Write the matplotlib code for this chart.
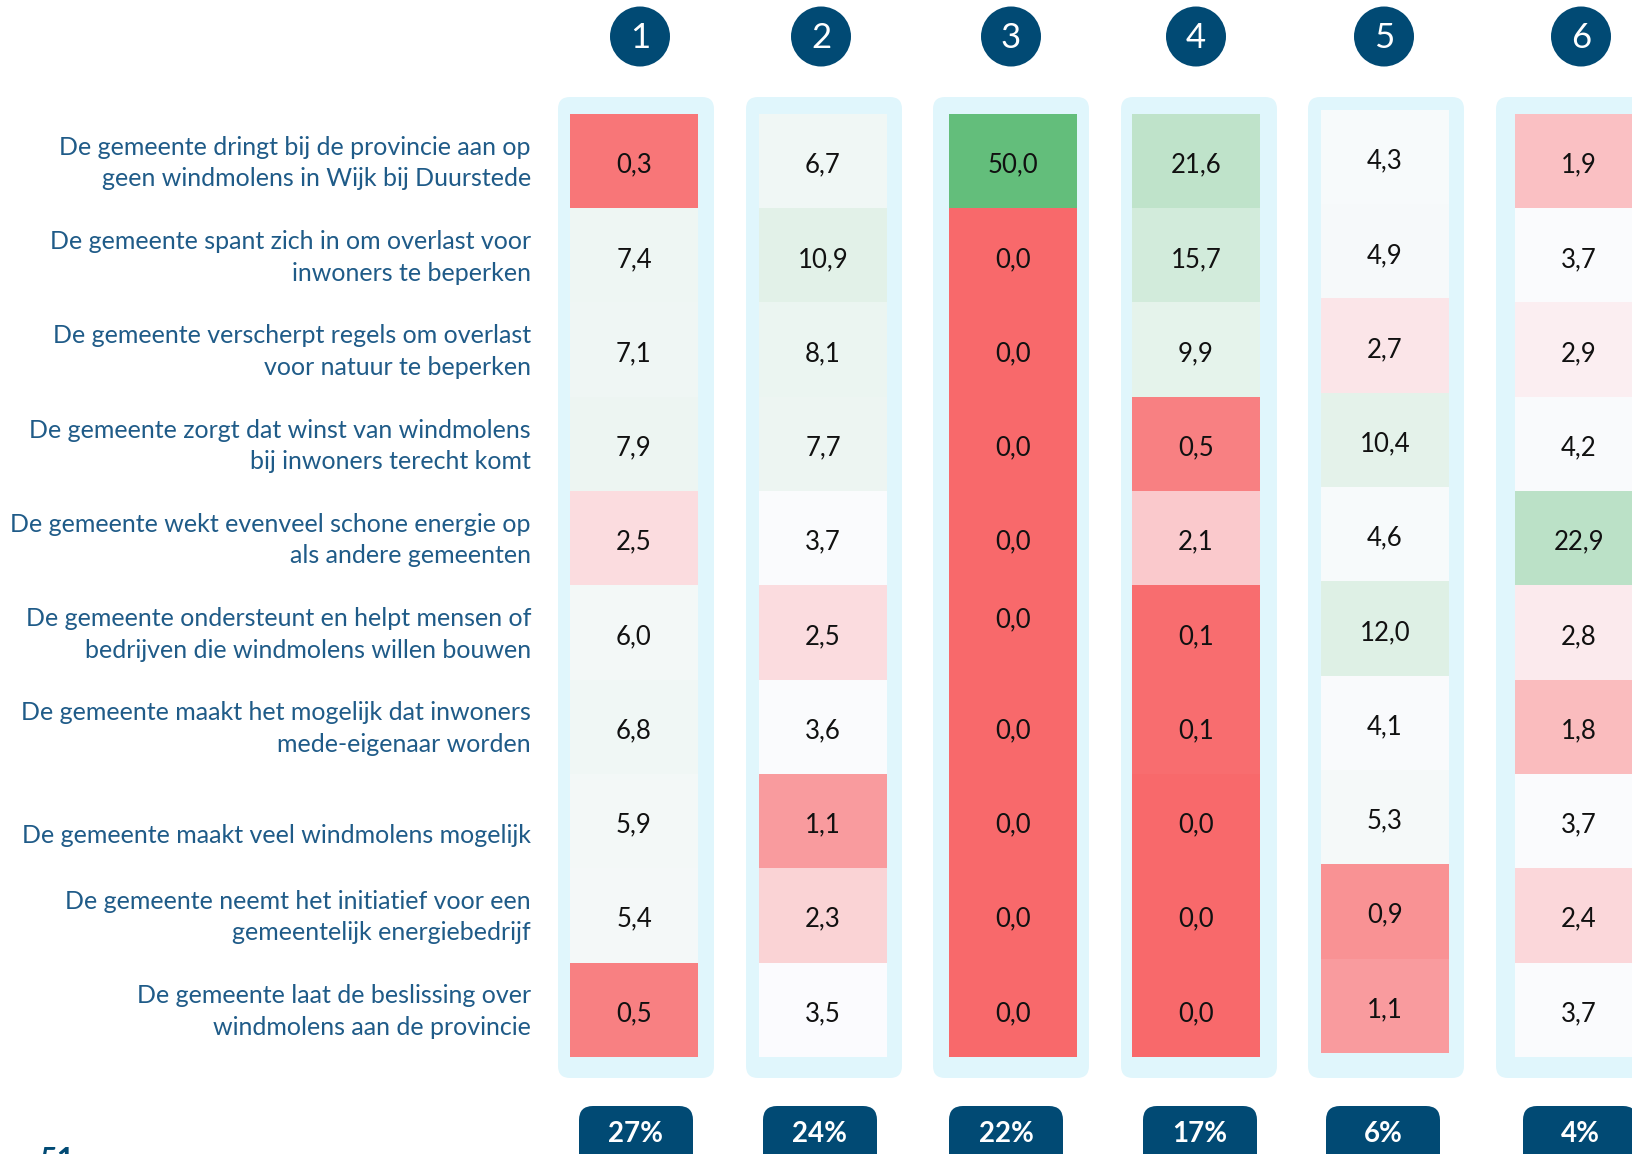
import numpy as np
import matplotlib
matplotlib.use("Agg")
import matplotlib.pyplot as plt
from matplotlib.colors import LinearSegmentedColormap, TwoSlopeNorm
from matplotlib.patches import FancyBboxPatch, Ellipse

# ---------------- data ----------------
statements = [
    "De gemeente dringt bij de provincie aan op\ngeen windmolens in Wijk bij Duurstede",
    "De gemeente spant zich in om overlast voor\ninwoners te beperken",
    "De gemeente verscherpt regels om overlast\nvoor natuur te beperken",
    "De gemeente zorgt dat winst van windmolens\nbij inwoners terecht komt",
    "De gemeente wekt evenveel schone energie op\nals andere gemeenten",
    "De gemeente ondersteunt en helpt mensen of\nbedrijven die windmolens willen bouwen",
    "De gemeente maakt het mogelijk dat inwoners\nmede-eigenaar worden",
    "De gemeente maakt veel windmolens mogelijk",
    "De gemeente neemt het initiatief voor een\ngemeentelijk energiebedrijf",
    "De gemeente laat de beslissing over\nwindmolens aan de provincie",
]
segments = ["1", "2", "3", "4", "5", "6"]
segment_share = ["27%", "24%", "22%", "17%", "6%", "4%"]

seg1 = [0.3, 7.4, 7.1, 7.9, 2.5, 6.0, 6.8, 5.9, 5.4, 0.5]
seg2 = [6.7, 10.9, 8.1, 7.7, 3.7, 2.5, 3.6, 1.1, 2.3, 3.5]
seg3 = [50.0, 0.0, 0.0, 0.0, 0.0, 0.0, 0.0, 0.0, 0.0, 0.0]
seg4 = [21.6, 15.7, 9.9, 0.5, 2.1, 0.1, 0.1, 0.0, 0.0, 0.0]
seg5 = [4.3, 4.9, 2.7, 10.4, 4.6, 12.0, 4.1, 5.3, 0.9, 1.1]
seg6 = [1.9, 3.7, 2.9, 4.2, 22.9, 2.8, 1.8, 3.7, 2.4, 3.7]
series = [seg1, seg2, seg3, seg4, seg5, seg6]

# ---------------- style ----------------
W, H = 1633, 1154
fig = plt.figure(figsize=(W / 100, H / 100), dpi=100)
ax = fig.add_axes([0, 0, 1, 1])
ax.set_xlim(0, W)
ax.set_ylim(H, 0)
ax.axis("off")

FONT = ["Lato", "DejaVu Sans"]
DARK = "#014a74"
LABEL = "#1f5b88"
PANEL = "#e0f6fc"

cmap = LinearSegmentedColormap.from_list("xl", ["#F8696B", "#FCFCFF", "#63BE7B"])
allv = np.concatenate([np.array(s) for s in series])
norm = TwoSlopeNorm(vmin=allv.min(), vcenter=np.percentile(allv, 50), vmax=allv.max())

# layout (pixels)
panel_left = [558, 746, 933, 1121, 1308, 1496]
panel_w = 156
panel_top, panel_bot = 97, 1078
cell_left = [570, 759, 949, 1132, 1321, 1515]
cell_w = 128
cell_top = [115, 115, 115, 115, 111, 115]
row_h = 94.25
circle_x = [640, 821, 1011, 1196, 1384, 1581]
badge_x = [636, 820, 1006, 1200, 1383, 1580]

for i, vals in enumerate(series):
    # background panel
    ax.add_patch(FancyBboxPatch((panel_left[i] + 12, panel_top + 12),
                                panel_w - 24, panel_bot - panel_top - 24,
                                boxstyle="round,pad=12", fc=PANEL, ec="none", zorder=1))
    # heat cells
    top = cell_top[i]
    bot = top + row_h * len(vals)
    ax.imshow(np.array(vals)[:, None], cmap=cmap, norm=norm, aspect="auto",
              extent=(cell_left[i], cell_left[i] + cell_w, bot, top),
              interpolation="nearest", zorder=2)
    for r, v in enumerate(vals):
        dy = -17 if (i == 2 and r == 5) else 0
        ax.text(cell_left[i] + cell_w / 2, top + row_h * (r + 0.5) + dy + 3,
                f"{v:.1f}".replace(".", ","), ha="center", va="center",
                fontsize=18.5, family=FONT, color="#111111", zorder=3)
    # header circle
    ax.add_patch(Ellipse((circle_x[i], 36.5), 60, 60, fc=DARK, ec="none", zorder=3))
    ax.text(circle_x[i], 38, segments[i], ha="center", va="center",
            fontsize=25, family=FONT, color="white", zorder=4)
    # bottom badge
    ax.add_patch(FancyBboxPatch((badge_x[i] - 57 + 14, 1106 + 14), 114 - 28, 80,
                                boxstyle="round,pad=14", fc=DARK, ec="none", zorder=3))
    ax.text(badge_x[i], 1134, segment_share[i], ha="center", va="center",
            fontsize=20, family=FONT, weight="bold", color="white", zorder=4)

# row labels
for r, lab in enumerate(statements):
    yc = 115 + row_h * (r + 0.5) + 1
    if "\n" not in lab:
        yc += 13
    ax.text(531, yc, lab, ha="right", va="center", fontsize=18, family=FONT,
            color=LABEL, linespacing=1.45, zorder=3)

# page number (cut off at bottom, as in the original page)
ax.text(40, 1146, "51", ha="left", va="top", fontsize=22, family=FONT,
        weight="bold", color=DARK)

fig.savefig("out.png", dpi=100)
